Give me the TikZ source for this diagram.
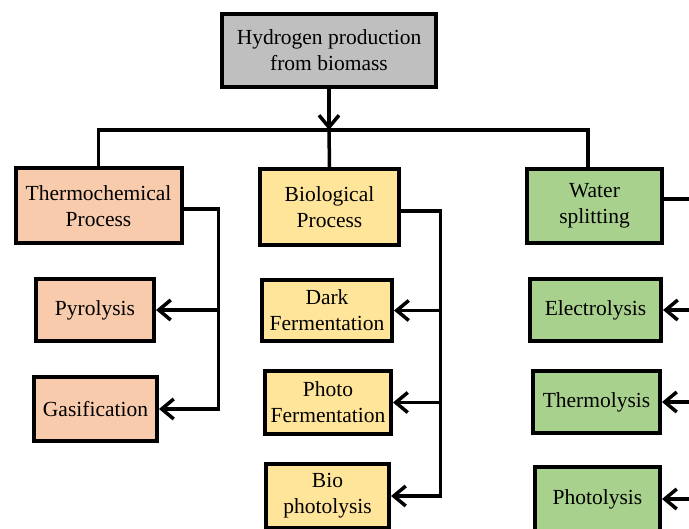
\documentclass[tikz,border=0pt]{standalone}
\usepackage{fontspec}
\setmainfont{Liberation Serif}
\definecolor{rootgray}{RGB}{191,191,191}
\definecolor{thermopeach}{RGB}{248,203,173}
\definecolor{bioyellow}{RGB}{255,229,153}
\definecolor{watergreen}{RGB}{169,209,142}
\usetikzlibrary{arrows.meta,positioning,calc}

\begin{document}
\begin{tikzpicture}[x=1pt,y=-1pt,
    procbox/.style={draw=black, line width=4pt, align=center, inner sep=2pt,
        font=\fontsize{21.5}{26}\selectfont},
    link/.style={line width=3.5pt},
    arr/.style={link, -{Straight Barb[length=12pt,width=20pt]}}]
    \useasboundingbox (0,0) rectangle (689,529);
    \clip (0,0) rectangle (689,529);

    % root
    \node[procbox, fill=rootgray, minimum width=214pt, minimum height=73pt] (root) at (329,50.5) {Hydrogen production\\from biomass};

    % main routes
    \node[procbox, fill=thermopeach, minimum width=166pt, minimum height=75pt] (thermo) at (98.5,206) {Thermochemical\\Process};
    \node[procbox, fill=bioyellow, minimum width=139pt, minimum height=76pt] (bio) at (329.5,207) {Biological\\Process};
    \node[procbox, fill=watergreen, minimum width=135pt, minimum height=74pt] (water) at (594.5,206) {Water\\splitting};

    % thermochemical
    \node[procbox, fill=thermopeach, minimum width=118pt, minimum height=62pt] (pyro) at (95,310) {Pyrolysis};
    \node[procbox, fill=thermopeach, minimum width=123pt, minimum height=64pt] (gasif) at (95.5,409) {Gasification};

    % biological
    \node[procbox, fill=bioyellow, minimum width=130pt, minimum height=61pt] (dark) at (327,310.5) {Dark\\Fermentation};
    \node[procbox, fill=bioyellow, minimum width=126pt, minimum height=63pt] (photo) at (328,402.5) {Photo\\Fermentation};
    \node[procbox, fill=bioyellow, minimum width=123pt, minimum height=64pt] (biophoto) at (327.5,496) {Bio\\photolysis};

    % water splitting
    \node[procbox, fill=watergreen, minimum width=131pt, minimum height=62pt] (electro) at (595.5,310) {Electrolysis};
    \node[procbox, fill=watergreen, minimum width=127pt, minimum height=62pt] (thermol) at (596.5,402) {Thermolysis};
    \node[procbox, fill=watergreen, minimum width=125pt, minimum height=64pt] (photol) at (597.5,499) {Photolysis};

    % top bus
    \coordinate (bus) at (329,130);
    \draw[arr] (root.south) -- (bus);
    \draw[link] (thermo.north) |- (bus) -| ([xshift=-6.5pt]water.north);
    \draw[link] (bio.north) -- (bus);

    % side buses
    \coordinate (tc) at (218.5,0);
    \coordinate (bc) at (440.5,0);
    \coordinate (wc) at (702,0);

    \draw[arr] ([yshift=-3pt]thermo.east) -| (tc |- gasif) -- (gasif.east);
    \draw[arr] (tc |- pyro) -- (pyro.east);

    \draw[arr] ([yshift=-4pt]bio.east) -| (bc |- biophoto) -- (biophoto.east);
    \draw[arr] (bc |- dark) -- (dark.east);
    \draw[arr] (bc |- photo) -- (photo.east);

    \draw[arr] ([yshift=7pt]water.east) -| (wc |- photol) -- (photol.east);
    \draw[arr] (wc |- electro) -- (electro.east);
    \draw[arr] (wc |- thermol) -- (thermol.east);
\end{tikzpicture}
\end{document}
